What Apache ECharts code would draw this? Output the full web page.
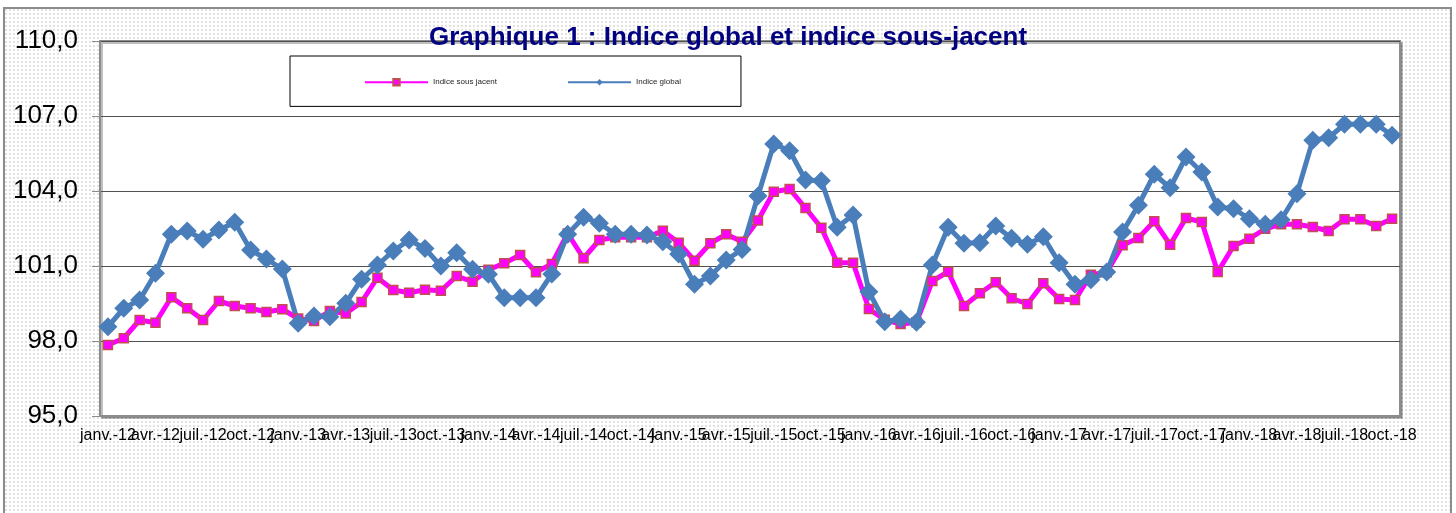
<!DOCTYPE html>
<html>
<head>
<meta charset="utf-8">
<script src="https://cdn.jsdelivr.net/npm/echarts@6/dist/echarts.min.js"></script>
<style>
html, body { margin: 0; padding: 0; background: #fff; overflow: hidden; }
#frame {
  position: absolute; left: 3px; top: 7px; width: 1445px; height: 520px;
  border: 2px solid #8c8c8c;
  background-color: #e2e2e2;
  background-image: linear-gradient(90deg, transparent 2px, #fff 2px), linear-gradient(transparent 2px, #fff 2px);
  background-size: 4px 4px;
}
#chart { position: absolute; left: 0; top: 0; width: 1456px; height: 513px; }
</style>
</head>
<body>
<div id="frame"></div>
<div id="chart"></div>
<script>
// mois et années affichés sur l'axe des abscisses
const months = ['janv.', 'févr.', 'mars', 'avr.', 'mai', 'juin', 'juil.', 'août', 'sept.', 'oct.', 'nov.', 'déc.'];
const years = ['12', '13', '14', '15', '16', '17', '18'];
const lastMonth = 'oct.-18';

// Indice sous-jacent (rose)
const indiceSousJacent = [
  97.84, 98.11, 98.84, 98.73, 99.75, 99.31, 98.84, 99.60, 99.40, 99.31, 99.16, 99.27,
  98.90, 98.80, 99.20, 99.10, 99.56, 100.53, 100.04, 99.93, 100.05, 100.01, 100.60, 100.37,
  100.85, 101.11, 101.44, 100.75, 101.08, 102.30, 101.31, 102.04, 102.15, 102.15, 102.15, 102.41,
  101.93, 101.21, 101.91, 102.27, 101.97, 102.82, 103.97, 104.08, 103.32, 102.53, 101.13, 101.13,
  99.28, 98.85, 98.68, 98.75, 100.40, 100.77, 99.40, 99.91, 100.35, 99.71, 99.48, 100.31,
  99.68, 99.64, 100.65, 100.75, 101.83, 102.12, 102.79, 101.85, 102.92, 102.76, 100.76, 101.80,
  102.09, 102.49, 102.67, 102.67, 102.56, 102.40, 102.87, 102.87, 102.60, 102.89
];

// Indice global (bleu)
const indiceGlobal = [
  98.57, 99.31, 99.64, 100.71, 102.27, 102.40, 102.07, 102.44, 102.75, 101.64, 101.28, 100.88,
  98.71, 99.00, 98.97, 99.51, 100.47, 101.04, 101.60, 102.04, 101.70, 101.00, 101.53, 100.87,
  100.67, 99.73, 99.73, 99.73, 100.68, 102.27, 102.95, 102.71, 102.27, 102.27, 102.24, 101.97,
  101.48, 100.27, 100.60, 101.24, 101.66, 103.80, 105.88, 105.61, 104.44, 104.41, 102.55, 103.04,
  99.97, 98.77, 98.88, 98.75, 101.04, 102.55, 101.91, 101.93, 102.60, 102.11, 101.87, 102.17,
  101.13, 100.27, 100.45, 100.76, 102.36, 103.43, 104.67, 104.13, 105.36, 104.76, 103.36, 103.29,
  102.89, 102.67, 102.85, 103.89, 106.03, 106.13, 106.67, 106.67, 106.67, 106.23
];

const yMin = 95, yMax = 110, yStep = 3;

// construire la liste des mois jusqu'à oct.-18
const categories = [];
for (const y of years) {
  for (const m of months) {
    categories.push(m + '-' + y);
    if (m + '-' + y === lastMonth) break;
  }
}

const font = "'Liberation Sans', Arial, sans-serif";
const chart = echarts.init(document.getElementById('chart'));

// les étiquettes se chevauchent : on les répartit sur deux axes superposés
// pour qu'ECharts n'en masque aucune
const labelStyle = { fontFamily: font, fontSize: 16, color: '#000', margin: 12 };

const option = {
  backgroundColor: 'transparent',
  animation: false,
  title: {
    text: 'Graphique 1 : Indice global et indice sous-jacent',
    left: 'center',
    top: 25,
    padding: 0,
    textStyle: { fontFamily: font, fontSize: 26, fontWeight: 'bold', color: '#000080' }
  },
  legend: {
    data: ['Indice sous jacent', 'Indice global'],
    left: 290,
    top: 56,
    padding: [22, 60, 20, 74],
    itemWidth: 63,
    itemHeight: 8,
    itemGap: 70,
    backgroundColor: '#fff',
    borderColor: '#000',
    borderWidth: 1,
    borderRadius: 0,
    textStyle: { fontFamily: font, fontSize: 8, color: '#222' }
  },
  grid: {
    left: 100,
    right: 56,
    top: 41,
    bottom: 97,
    show: true,
    backgroundColor: '#fff',
    borderColor: '#8c8c8c',
    borderWidth: 2,
    shadowColor: 'rgba(0,0,0,0.25)',
    shadowOffsetX: 2,
    shadowOffsetY: 2,
    shadowBlur: 0,
    outerBoundsMode: 'none'
  },
  xAxis: [
    {
      type: 'category',
      position: 'bottom',
      data: categories,
      boundaryGap: true,
      axisLine: { lineStyle: { color: '#8c8c8c', width: 2 } },
      axisTick: { interval: 2, length: 5, lineStyle: { color: '#8c8c8c', width: 1 } },
      axisLabel: Object.assign({ interval: (i) => i % 6 === 0 }, labelStyle),
      splitLine: { show: false }
    },
    {
      type: 'category',
      position: 'bottom',
      offset: 0,
      data: categories,
      boundaryGap: true,
      axisLine: { show: false },
      axisTick: { show: false },
      axisLabel: Object.assign({ interval: (i) => i % 6 === 3 }, labelStyle),
      splitLine: { show: false }
    }
  ],
  yAxis: {
    type: 'value',
    min: yMin,
    max: yMax,
    interval: yStep,
    axisLine: { show: true, lineStyle: { color: '#8c8c8c', width: 2 } },
    axisTick: { show: true, length: 8, lineStyle: { color: '#8c8c8c' } },
    axisLabel: {
      fontFamily: font, fontSize: 26, color: '#000', margin: 22,
      formatter: v => v.toFixed(1).replace('.', ',')
    },
    splitLine: { lineStyle: { color: '#505050', width: 1 } }
  },
  series: [
    {
      name: 'Indice sous jacent',
      type: 'line',
      data: indiceSousJacent,
      symbol: 'rect',
      symbolSize: 9,
      showAllSymbol: true,
      lineStyle: { color: '#ff00ff', width: 5 },
      itemStyle: { color: '#ff00ff', borderColor: '#c0504d', borderWidth: 1.5 }
    },
    {
      name: 'Indice global',
      type: 'line',
      data: indiceGlobal,
      symbol: 'diamond',
      symbolSize: 19,
      showAllSymbol: true,
      lineStyle: { color: '#4a7ebb', width: 5 },
      itemStyle: { color: '#4a7ebb', borderWidth: 0 }
    }
  ]
};

chart.setOption(option);
</script>
</body>
</html>
